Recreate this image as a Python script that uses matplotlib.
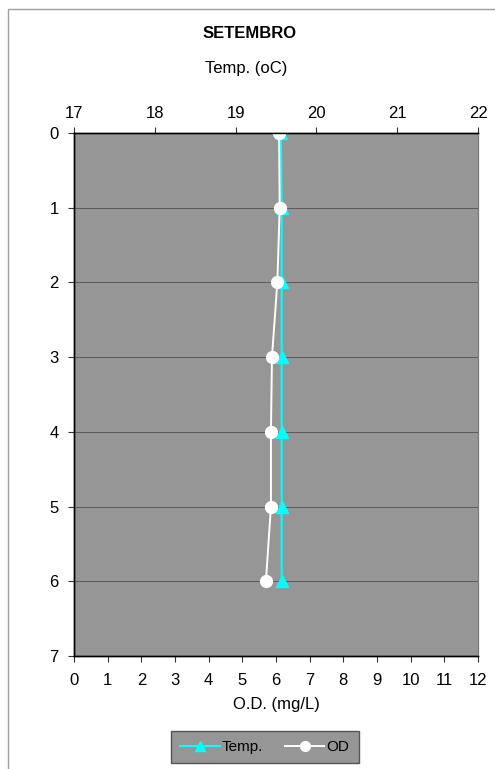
import matplotlib
matplotlib.use("Agg")
import matplotlib.pyplot as plt
from matplotlib.lines import Line2D
from matplotlib.patches import Rectangle

plt.rcParams['font.family'] = ['Liberation Sans', 'DejaVu Sans']

# dados - perfil de setembro
depth = [0, 1, 2, 3, 4, 5, 6]
temp = [19.56, 19.57, 19.57, 19.57, 19.57, 19.57, 19.57]
od = [6.09, 6.11, 6.04, 5.88, 5.85, 5.85, 5.70]

gray = '#969696'
fs = 12

fig = plt.figure(figsize=(4.95, 7.69), dpi=100)

# moldura do grafico
fig.patches.append(Rectangle((8 / 495, -0.1), 1.0, 1.0 - 9 / 769 + 0.1,
                             transform=fig.transFigure, fill=False,
                             edgecolor='#a0a0a0', linewidth=1.0))

ax2 = fig.add_axes([74 / 495, 113 / 769, 404 / 495, 523 / 769])
ax2.set_facecolor(gray)
ax = ax2.twiny()
ax.patch.set_visible(False)
ax.set_zorder(ax2.get_zorder() + 1)

# ax = O.D. (eixo de baixo), ax2 = Temp. (eixo de cima)
ax2.plot(temp, depth, color='#00ffff', marker='^', markersize=8,
         linewidth=1.5, label='Temp.')
ax.plot(od, depth, color='white', marker='o', markersize=8.5,
        linewidth=1.4, label='OD')

ax.set_ylim(7, 0)
ax2.set_ylim(7, 0)
ax.set_xlim(0, 12)
ax2.set_xlim(17, 22)
ax.set_xticks(range(0, 13))
ax2.set_xticks(range(17, 23))
ax2.set_yticks(range(0, 8))

ax.xaxis.set_ticks_position('bottom')
ax.xaxis.set_label_position('bottom')
ax2.xaxis.set_ticks_position('top')
ax2.xaxis.set_label_position('top')

ax.yaxis.grid(True, color='#505050', linewidth=0.6)
ax2.yaxis.grid(True, color='#505050', linewidth=0.6)
ax.set_axisbelow(True)

for a in (ax, ax2):
    a.tick_params(labelsize=fs, length=4, width=0.8, direction='out', color='#333333')
    for s in a.spines.values():
        s.set_linewidth(1.0)
        s.set_color('black')
    a.spines['right'].set_color('#777777')
    a.spines['right'].set_linewidth(0.8)

ax.tick_params(axis='y', left=False, labelleft=False)
ax2.tick_params(axis='y', pad=7)
ax2.tick_params(axis='x', pad=5)
ax.tick_params(axis='x', pad=8)

ax.set_xlabel('O.D. (mg/L)', fontsize=fs, labelpad=7)
fig.text(0.497, 1 - 68 / 769, 'Temp. (oC)', ha='center', va='center', fontsize=fs)
fig.text(0.505, 1 - 33 / 769, 'SETEMBRO', ha='center', va='center',
         fontsize=fs, fontweight='bold')

handles = [Line2D([], [], color='#00ffff', marker='^', markersize=7, linewidth=1.5),
           Line2D([], [], color='white', marker='o', markersize=7, linewidth=1.4)]
leg = fig.legend(handles, ['Temp.', 'OD'], loc='center',
                 bbox_to_anchor=(0.535, 1 - 747 / 769), ncol=2, fontsize=11,
                 frameon=True, fancybox=False, handlelength=2.6,
                 handletextpad=0.15, columnspacing=1.4, borderpad=0.6)
leg.get_frame().set_facecolor(gray)
leg.get_frame().set_edgecolor('#555555')
leg.get_frame().set_alpha(1)

fig.savefig('out.png', dpi=100)
